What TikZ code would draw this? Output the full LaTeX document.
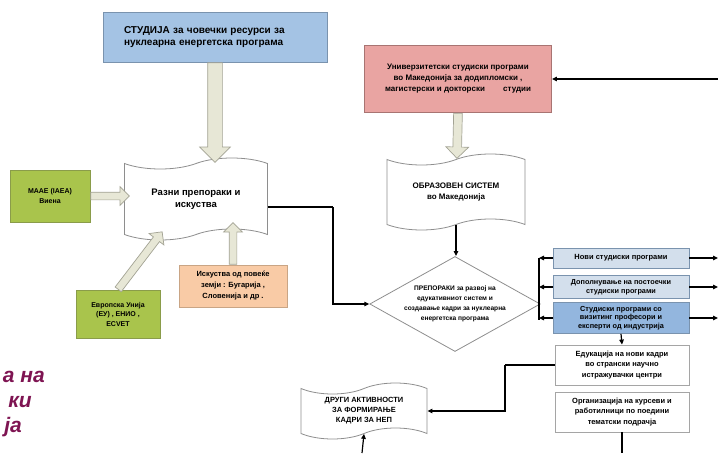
\documentclass[tikz,border=0pt]{standalone}
\usepackage{fontspec}
\setmainfont{Liberation Sans}
\usetikzlibrary{shapes.geometric,shapes.symbols,shapes.arrows,arrows.meta,calc}

\definecolor{bluebox}{HTML}{A4C3E4}
\definecolor{blueline}{HTML}{7A93AE}
\definecolor{pinkbox}{HTML}{E9A4A2}
\definecolor{pinkline}{HTML}{A87472}
\definecolor{greenbox}{HTML}{A9C44C}
\definecolor{greenline}{HTML}{8A9C4A}
\definecolor{peachbox}{HTML}{F9CBA6}
\definecolor{peachline}{HTML}{C9A585}
\definecolor{paleblue}{HTML}{D3DFEC}
\definecolor{midblue}{HTML}{93B6DE}
\definecolor{grayline}{HTML}{8E8E8E}
\definecolor{arrowfill}{HTML}{E7E7D6}
\definecolor{arrowline}{HTML}{A3A394}
\definecolor{plum}{HTML}{7E1452}

\newcommand\hollowarrow[3][]{%
  \path let \p1=(#2), \p2=(#3),
    \n1={atan2(\y2-\y1,\x2-\x1)}, \n2={veclen(\x2-\x1,\y2-\y1)} in
    node[harrow,#1,minimum height=\n2,rotate=\n1,anchor=tail] at (\p1) {};}

\tikzset{
  box/.style={draw, line width=0.8pt, align=center, inner sep=2pt},
  tapebox/.style={tape, draw=grayline, fill=white, line width=0.8pt, align=center,
    tape bend height=11pt},
  harrow/.style={shape=single arrow, draw=arrowline, fill=arrowfill, line width=0.7pt,
    inner sep=3.5pt, single arrow head extend=5.5pt, single arrow tip angle=90},
  conn/.style={line width=1.2pt, black},
  arr/.style={conn, -{Triangle[length=5pt,width=4.5pt]}},
  fa/.style={font=\fontsize{10}{12}\selectfont\bfseries},
  fb/.style={font=\fontsize{8}{11}\selectfont\bfseries},
  fc/.style={font=\fontsize{7}{9.5}\selectfont\bfseries},
  fd/.style={font=\fontsize{6.6}{10}\selectfont\bfseries},
  fe/.style={font=\fontsize{7.5}{10.5}\selectfont\bfseries},
  ff/.style={font=\fontsize{7.3}{8.6}\selectfont\bfseries},
  fbig/.style={font=\fontsize{9.5}{12}\selectfont\bfseries},
  purple/.style={text=plum, font=\fontsize{21}{25}\selectfont\bfseries\itshape, inner sep=0pt}
}

\begin{document}
\begin{tikzpicture}[x=1pt,y=-1pt]
\useasboundingbox (0,0) rectangle (718,453);
\begin{scope}
\clip (0,0) rectangle (718,453);

% top boxes
\node[box, fa, draw=blueline, fill=bluebox, minimum width=224, minimum height=50,
  text width=182, align=left] (study) at (215,37)
  {СТУДИЈА за човечки ресурси за\\нуклеарна енергетска програма};
\node[box, fb, draw=pinkline, fill=pinkbox, minimum width=187, minimum height=67]
  (univ) at (458,79)
  {Универзитетски студиски програми\\во Македонија за додипломски ,\\магистерски и докторски \quad\quad студии};

% tapes
\node[tapebox, fbig, minimum width=143, minimum height=82] (recs) at (196,199)
  {Разни препораки и\\искуства};
\node[tapebox, fb, minimum width=138, minimum height=76] (edu) at (456,192)
  {ОБРАЗОВЕН СИСТЕМ\\во Македонија};
\node[tapebox, font=\fontsize{7.5}{10}\selectfont\bfseries, minimum width=126, minimum height=56]
  (other) at (364,411)
  {ДРУГИ АКТИВНОСТИ\\ЗА ФОРМИРАЊЕ\\КАДРИ ЗА НЕП};

% left boxes
\node[box, fc, draw=greenline, fill=greenbox, minimum width=80, minimum height=52]
  (iaea) at (50,196) {МААЕ (IAEA)\\Виена};
\node[box, fc, draw=greenline, fill=greenbox, minimum width=84, minimum height=48]
  (eu) at (118,314) {Европска Унија\\(ЕУ) , ЕНИО ,\\ECVET};
\node[box, font=\fontsize{7.5}{11}\selectfont\bfseries, draw=peachline, fill=peachbox,
  minimum width=108, minimum height=42] (exp) at (233,286)
  {Искуства од повеќе\\земји : Бугарија ,\\Словенија и др .};

% diamond
\node[diamond, draw=grayline, fill=white, line width=0.8pt, fd, align=center,
  inner sep=0pt, aspect=1.9, minimum width=162, minimum height=95] (rec) at (455,304)
  {ПРЕПОРАКИ за развој на\\едукативниот систем и\\создавање кадри за нуклеарна\\енергетска програма};

% right boxes
\node[box, font=\fontsize{7.5}{9}\selectfont\bfseries, draw=blueline, fill=paleblue,
  minimum width=136, minimum height=20] (newp) at (621,258) {Нови студиски програми};
\node[box, ff, draw=blueline, fill=paleblue, minimum width=136, minimum height=23]
  (addp) at (621,287) {Дополнување на постоечки\\студиски програми};
\node[box, ff, draw=blueline, fill=midblue, minimum width=136, minimum height=31]
  (visp) at (621,318) {Студиски програми со\\визитинг професори и\\експерти од индустрија};
\node[box, fe, draw=grayline!80, fill=white, minimum width=134, minimum height=40]
  (abroad) at (622,365) {Едукација на нови кадри\\во странски научно\\истражувачки центри};
\node[box, fe, draw=grayline!80, fill=white, minimum width=134, minimum height=40]
  (course) at (622,412) {Организација на курсеви и\\работилници по поедини\\тематски подрачја};

% hollow arrows
\hollowarrow[inner sep=7pt, single arrow head extend=8pt]{study.south}{215,162}
\hollowarrow[inner sep=4pt, single arrow head extend=7pt]{univ.south}{457,158}
\hollowarrow{iaea.east}{129,196}
\hollowarrow{eu.north}{162,232}
\hollowarrow{exp.north}{233,223}

% connectors
\coordinate (inU) at (718,79);
\draw[arr] (inU) -- (univ.east);
\coordinate (bendA) at (333,207);
\draw[conn] ([yshift=-8pt]recs.east) -- (bendA);
\draw[arr] (bendA) |- (rec.west);
\draw[arr] (edu.south) -- (edu.south |- rec.north);

\coordinate (brTop) at (539,258);
\coordinate (brBot) at (539,320);
\draw[conn] (brTop) -- (brBot);
\draw[arr] (newp.west) -- (newp.west -| brTop);
\draw[arr] (addp.west) -- (addp.west -| brTop);
\draw[arr] (visp.west) -- (visp.west -| brTop);

\coordinate (outR) at (718,0);
\draw[arr] (newp.east) -- (newp.east -| outR);
\draw[arr] (addp.east) -- (addp.east -| outR);
\draw[arr] (visp.east) -- (visp.east -| outR);

\draw[arr] (visp.south) -- (abroad.north);
\coordinate (downE) at (622,453);
\draw[conn] (course.south) -- (downE);

\coordinate (bendB) at (505,400);
\draw[conn] (abroad.west) -- (abroad.west -| bendB);
\draw[arr] (abroad.west -| bendB) |- (other.east);
\coordinate (upO) at (362,453);
\draw[arr] (upO) -- (other.south);

% purple partial text at left edge
\node[purple, anchor=base east] (pa) at (45,382) {а на};
\node[purple, anchor=base east] (pb) at (32,407) {ки};
\node[purple, anchor=base east] (pc) at (22,432) {ја};
\end{scope}
\end{tikzpicture}
\end{document}
